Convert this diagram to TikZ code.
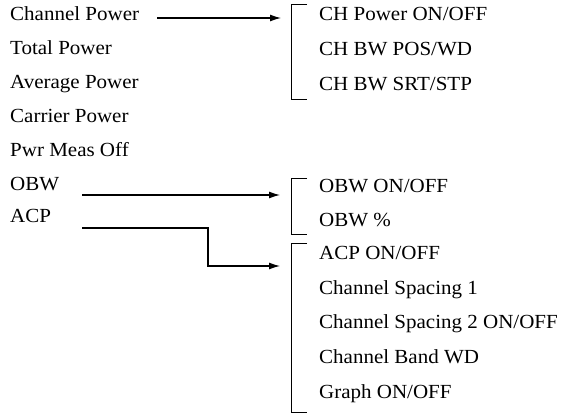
\documentclass[tikz,border=0pt]{standalone}
\usepackage{fontspec}
\setmainfont{Liberation Serif}[FakeStretch=1.05]
\usetikzlibrary{arrows.meta}
\begin{document}
\begin{tikzpicture}[x=1pt,y=-1pt,
  lbl/.style={anchor=base west,inner sep=0pt,font=\fontsize{20}{22}\selectfont},
  conn/.style={line width=1.2pt,-{Latex[length=11pt,width=7pt]}},
  brk/.style={line width=1pt}]
\useasboundingbox (0,0) rectangle (564,414);
% left column
\node[lbl] (cp) at (10,20.5) {Channel Power};
\node[lbl] (tp) at (10,54.5) {Total Power};
\node[lbl] (ap) at (10,88.5) {Average Power};
\node[lbl] (crp) at (10,122.5) {Carrier Power};
\node[lbl] (pmo) at (10,156.5) {Pwr Meas Off};
\node[lbl] (obw) at (10,190.5) {OBW};
\node[lbl] (acp) at (10,222.5) {ACP};
% right column
\node[lbl] (r1) at (319,20.5) {CH Power ON/OFF};
\node[lbl] (r2) at (319,55.5) {CH BW POS/WD};
\node[lbl] (r3) at (319,90.5) {CH BW SRT/STP};
\node[lbl] (r4) at (319,192.5) {OBW ON/OFF};
\node[lbl] (r5) at (319,226.5) {OBW \%};
\node[lbl] (r6) at (319,259.5) {ACP ON/OFF};
\node[lbl] (r7) at (319,294.5) {Channel Spacing 1};
\node[lbl] (r8) at (319,328.5) {Channel Spacing 2 ON/OFF};
\node[lbl] (r9) at (319,363.5) {Channel Band WD};
\node[lbl] (r10) at (319,398.5) {Graph ON/OFF};
% brackets
\coordinate (b1t) at (291,5);
\coordinate (b1b) at (291,100);
\coordinate (b2t) at (291,178);
\coordinate (b2b) at (291,234);
\coordinate (b3t) at (291,243);
\coordinate (b3b) at (291,412);
\draw[brk] ([xshift=16pt]b1t) -- (b1t) -- (b1b) -- ++(16,0);
\draw[brk] ([xshift=16pt]b2t) -- (b2t) -- (b2b) -- ++(16,0);
\draw[brk] ([xshift=16pt]b3t) -- (b3t) -- (b3b) -- ++(16,0);
% connectors
\coordinate (a1s) at (157,18);
\coordinate (a1e) at (281,18);
\draw[conn] (a1s) -- (a1e);
\coordinate (a2s) at (82,195);
\coordinate (a2e) at (280,195);
\draw[conn] (a2s) -- (a2e);
\coordinate (a3s) at (82,228);
\coordinate (a3m) at (208,266);
\coordinate (a3e) at (280,266);
\draw[conn] (a3s) -| (a3m) -- (a3e);
\end{tikzpicture}
\end{document}
